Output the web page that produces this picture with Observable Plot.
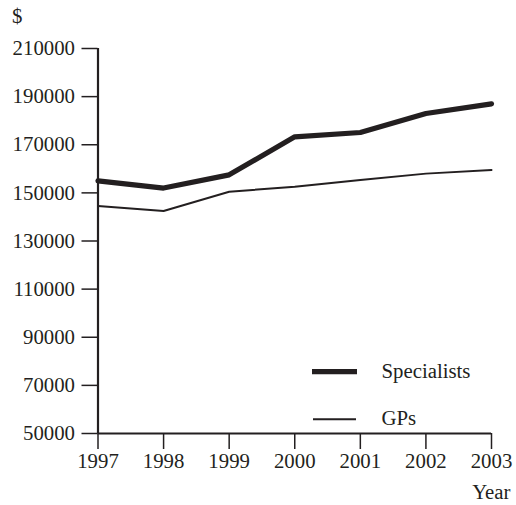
<!DOCTYPE html>
<html>
<head>
<meta charset="utf-8">
<script src="https://cdn.jsdelivr.net/npm/d3@7"></script>
<script src="https://cdn.jsdelivr.net/npm/@observablehq/plot@0.6"></script>
<style>
  html, body { margin: 0; padding: 0; background: #fff; }
  #chart { position: relative; width: 516px; height: 505px; }
</style>
</head>
<body>
<div id="chart"></div>
<script>
const years = [1997, 1998, 1999, 2000, 2001, 2002, 2003];
const specialists = [155000, 152000, 157500, 173300, 175100, 183000, 187000];
const gps = [144500, 142500, 150500, 152500, 155400, 158000, 159500];
const yTicks = [50000, 70000, 90000, 110000, 130000, 150000, 170000, 190000, 210000];
const seriesNames = ["Specialists", "GPs"];

const ink = "#231f20";
const font = "'Liberation Serif', 'Times New Roman', serif";
const fs = 20.8;

const specData = years.map((y, i) => ({year: y, value: specialists[i]}));
const gpData = years.map((y, i) => ({year: y, value: gps[i]}));

const chart = Plot.plot({
  width: 516,
  height: 505,
  marginLeft: 97.5,
  marginRight: 25,
  marginTop: 48,
  marginBottom: 72,
  style: {fontFamily: font, fontSize: fs + "px", color: ink, background: "#fff"},
  x: {domain: [1997, 2003]},
  y: {domain: [50000, 210000]},
  marks: [
    Plot.axisY({ticks: yTicks, tickSize: 16, tickPadding: 7, tickFormat: d => String(d), label: null, fontSize: fs, strokeWidth: 1.5}),
    Plot.axisX({ticks: years, tickSize: 16, tickPadding: 4, tickFormat: d => String(d), label: null, fontSize: fs, strokeWidth: 1.5}),
    Plot.ruleX([1997], {stroke: ink, strokeWidth: 2.2}),
    Plot.ruleY([50000], {stroke: ink, strokeWidth: 2.2}),
    Plot.line(gpData, {x: "year", y: "value", stroke: ink, strokeWidth: 2}),
    Plot.line(specData, {x: "year", y: "value", stroke: ink, strokeWidth: 5.2, strokeLinejoin: "miter"}),
    Plot.text(["$"], {frameAnchor: "top-left", dx: -86, dy: -40, text: d => d, fontSize: fs, fill: ink, textAnchor: "start", lineAnchor: "top"}),
    Plot.text(["Year"], {frameAnchor: "bottom-right", dx: 19, dy: 51, text: d => d, fontSize: fs, fill: ink, textAnchor: "end", lineAnchor: "top"})
  ]
});

document.getElementById("chart").appendChild(chart);

// legend
const svg = d3.select(chart);
const lg = svg.append("g").attr("fill", ink).attr("stroke", ink)
  .attr("text-anchor", "start")
  .style("font-family", font).style("font-size", fs + "px");
const legendRows = [
  {name: seriesNames[0], w: 5.2, y: 371.7, x1: 312, x2: 357, ty: 378},
  {name: seriesNames[1], w: 2, y: 419.3, x1: 313, x2: 356, ty: 425}
];
legendRows.forEach(r => {
  lg.append("line").attr("x1", r.x1).attr("x2", r.x2).attr("y1", r.y).attr("y2", r.y).attr("stroke-width", r.w);
  lg.append("text").attr("x", 381.5).attr("y", r.ty).attr("stroke", "none").attr("text-anchor", "start").text(r.name);
});
</script>
</body>
</html>
